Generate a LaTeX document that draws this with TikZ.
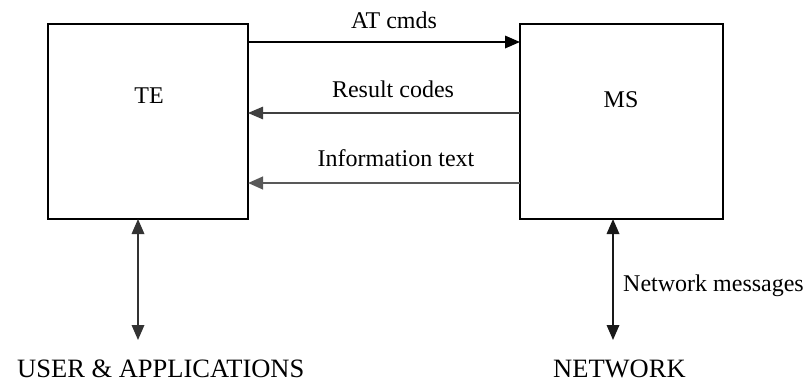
\documentclass[tikz,border=0pt]{standalone}
\usepackage{fontspec}
\setmainfont{Liberation Serif}
\usetikzlibrary{arrows.meta}
\begin{document}
\begin{tikzpicture}[x=1pt,y=-1pt,
  box/.style={draw,line width=1.6pt},
  lbl/.style={inner sep=0pt,font=\fontsize{24}{28}\selectfont},
  biglbl/.style={inner sep=0pt,font=\fontsize{26.5}{30}\selectfont},
  conn/.style={line width=1.8pt,-{Triangle[length=15pt,width=12.5pt]}},
  both/.style={line width=1.8pt,{Triangle[length=15pt,width=12.5pt]}-{Triangle[length=15pt,width=12.5pt]}}]
\useasboundingbox (0,0) rectangle (805,384);
\draw[box] (48,24) rectangle (248,219);
\draw[box] (520,24) rectangle (723,219);
\coordinate (teTop) at (248,42);
\coordinate (msTop) at (520,42);
\coordinate (teMid) at (248,113);
\coordinate (msMid) at (520,113);
\coordinate (teLow) at (248,183);
\coordinate (msLow) at (520,183);
\coordinate (teBot) at (138,219);
\coordinate (userEnd) at (138,340);
\coordinate (msBot) at (613,219);
\coordinate (netEnd) at (613,340);
\node[lbl,anchor=base] (te) at (149,103) {TE};
\node[lbl,anchor=base] (ms) at (621,107) {MS};
\draw[conn,black] (teTop) -- (msTop);
\draw[conn,line width=1.3pt,black!75] (msMid) -- (teMid);
\draw[conn,line width=2.6pt,black!65] (msLow) -- (teLow);
\draw[both,black!80] (teBot) -- (userEnd);
\draw[both,black!90] (msBot) -- (netEnd);
\node[lbl,anchor=base] (atl) at (394,28) {AT cmds};
\node[lbl,anchor=base] (rcl) at (393,97) {Result codes};
\node[lbl,anchor=base] (itl) at (396,166) {Information text};
\node[lbl,anchor=base west] (nml) at (623,291) {Network messages};
\node[biglbl,anchor=base west] (user) at (17,377) {USER \& APPLICATIONS};
\node[biglbl,anchor=base west] (net) at (553,377) {NETWORK};
\end{tikzpicture}
\end{document}
